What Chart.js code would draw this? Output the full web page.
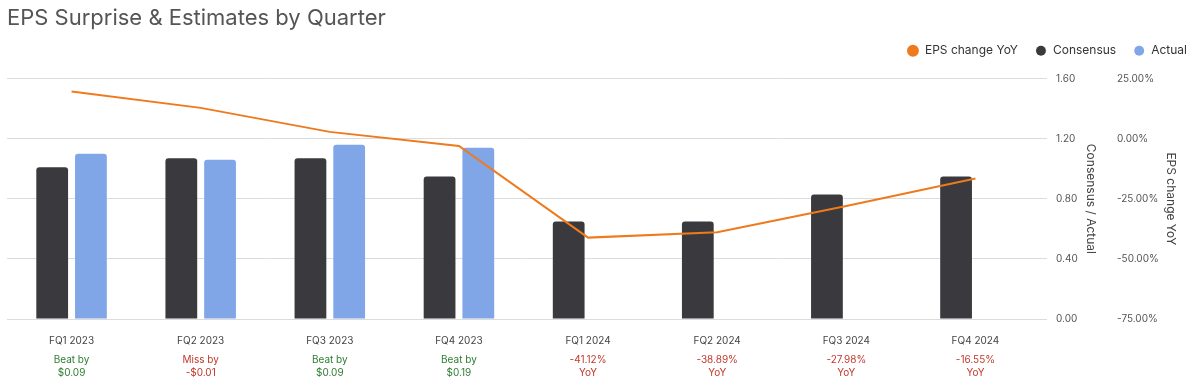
<!DOCTYPE html>
<html>
<head>
<meta charset="utf-8">
<script src="https://cdn.jsdelivr.net/npm/chart.js@4"></script>
<style>
  html, body { margin: 0; padding: 0; background: #fff; }
  #wrap { width: 1194px; height: 382px; }
</style>
</head>
<body>
<div id="wrap"><canvas id="c" width="1194" height="382"></canvas></div>
<script>
const categories = ["FQ1 2023", "FQ2 2023", "FQ3 2023", "FQ4 2023", "FQ1 2024", "FQ2 2024", "FQ3 2024", "FQ4 2024"];
const consensus = [1.01, 1.07, 1.07, 0.95, 0.65, 0.65, 0.83, 0.95];
const actual = [1.10, 1.06, 1.16, 1.14, null, null, null, null];
const epsChangeYoY = [19.7, 12.9, 2.9, -3.0, -41.12, -38.89, -27.98, -16.55];
const annotations = [["Beat by", "$0.09"], ["Miss by", "-$0.01"], ["Beat by", "$0.09"], ["Beat by", "$0.19"], ["-41.12%", "YoY"], ["-38.89%", "YoY"], ["-27.98%", "YoY"], ["-16.55%", "YoY"]];
const annotationKinds = ["beat", "miss", "beat", "beat", "miss", "miss", "miss", "miss"];
const leftTicks = [0, 0.4, 0.8, 1.2, 1.6];
const rightTicks = [-75, -50, -25, 0, 25];

const FONT = "Inter, 'Liberation Sans', sans-serif";
const kindColor = { beat: "#2e7d32", miss: "#c0392b" };

const legendShift = {
  id: "legendShift",
  afterLayout(chart) {
    if (chart.legend) { chart.legend.right += 20; chart.legend.left += 20; }
  }
};

new Chart(document.getElementById("c"), {
  data: {
    labels: categories,
    datasets: [
      {
        type: "line", label: "EPS change YoY", data: epsChangeYoY, yAxisID: "y1", xAxisID: "x",
        borderColor: "#ef7a1d", backgroundColor: "#ef7a1d", borderWidth: 2, pointRadius: 0,
        tension: 0, order: 0
      },
      {
        type: "bar", label: "Consensus", data: consensus, yAxisID: "y", xAxisID: "x",
        backgroundColor: "#3a3a3e", borderRadius: { topLeft: 3, topRight: 3 }, borderSkipped: "bottom",
        categoryPercentage: 0.6, barPercentage: 0.82, order: 1
      },
      {
        type: "bar", label: "Actual", data: actual, yAxisID: "y", xAxisID: "x",
        backgroundColor: "#80a6e8", borderRadius: { topLeft: 3, topRight: 3 }, borderSkipped: "bottom",
        categoryPercentage: 0.6, barPercentage: 0.82, order: 1
      }
    ]
  },
  plugins: [legendShift],
  options: {
    responsive: false,
    animation: false,
    layout: { padding: { left: 7, right: 10, top: 0, bottom: 0 } },
    plugins: {
      title: {
        display: true, text: "EPS Surprise & Estimates by Quarter", align: "start",
        color: "#555", font: { family: FONT, size: 22, weight: "normal", lineHeight: 0.9 },
        padding: { top: 8, bottom: 0 }
      },
      subtitle: {
        display: true, text: " ", weight: 500, font: { size: 1, lineHeight: 1 },
        padding: { top: 11, bottom: 0 }
      },
      legend: {
        display: true, align: "end",
        labels: {
          usePointStyle: true, pointStyle: "circle", boxWidth: 12, boxHeight: 7,
          color: "#333", font: { family: FONT, size: 12 }, padding: 17
        }
      },
      tooltip: { enabled: false }
    },
    scales: {
      x: {
        type: "category", position: "bottom", weight: 0, offset: true,
        afterFit: (s) => { s.height = 28; },
        grid: { display: false, drawTicks: false },
        border: { display: false },
        ticks: { color: "#444", font: { family: FONT, size: 10 }, padding: 16, autoSkip: false, maxRotation: 0 }
      },
      x2: {
        type: "category", position: "bottom", weight: 1, offset: true, labels: annotations,
        afterFit: (s) => { s.height = 35; },
        grid: { display: false, drawTicks: false },
        border: { display: false },
        ticks: {
          color: (ctx) => kindColor[annotationKinds[ctx.index]],
          font: { family: FONT, size: 10, lineHeight: 1.3 }, padding: 6, autoSkip: false, maxRotation: 0
        }
      },
      y: {
        position: "right", weight: 0, min: 0, max: 1.6,
        afterBuildTicks: (s) => { s.ticks = leftTicks.map(v => ({ value: v })); },
        afterFit: (s) => { s.width = 64; },
        grid: { color: "#dcdcdc", drawTicks: true, tickLength: 7 },
        border: { display: false },
        ticks: { color: "#555", font: { family: FONT, size: 10 }, padding: 9, callback: (v) => Number(v).toFixed(2) },
        title: { display: true, text: "Consensus / Actual", color: "#444", font: { family: FONT, size: 12 }, padding: { top: 6, bottom: 0 } }
      },
      y1: {
        position: "right", weight: 1, min: -75, max: 25,
        afterBuildTicks: (s) => { s.ticks = rightTicks.map(v => ({ value: v })); },
        afterFit: (s) => { s.width = 80; },
        grid: { display: false, drawTicks: false },
        border: { display: false },
        ticks: { color: "#555", font: { family: FONT, size: 10 }, padding: 13, callback: (v) => Number(v).toFixed(2) + "%" },
        title: { display: true, text: "EPS change YoY", color: "#444", font: { family: FONT, size: 12 }, padding: { top: 6, bottom: 0 } }
      }
    }
  }
});
</script>
</body>
</html>
